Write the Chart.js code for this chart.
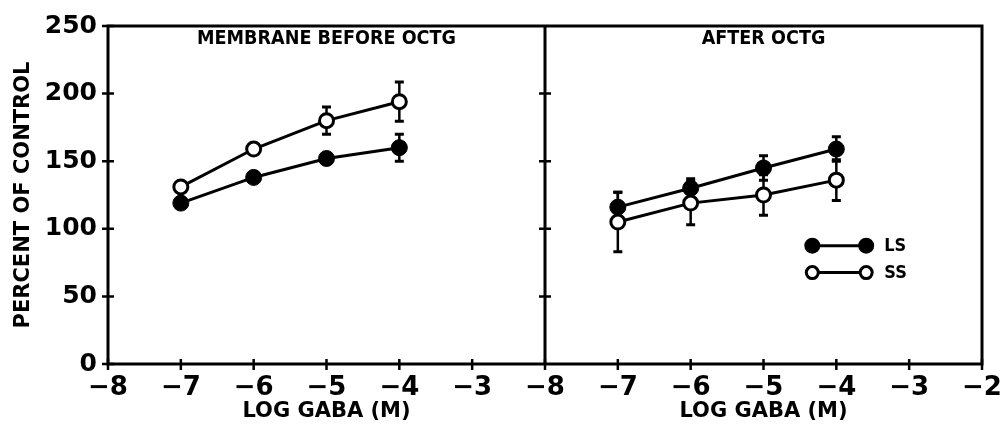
<!DOCTYPE html>
<html>
<head>
<meta charset="utf-8">
<script src="https://cdn.jsdelivr.net/npm/chart.js@4"></script>
<style>
  html, body { margin: 0; padding: 0; background: #fff; }
  #wrap { width: 1003px; height: 424px; }
</style>
</head>
<body>
<div id="wrap"><canvas id="gabaChart"></canvas></div>
<script>
// Data
const logGaba = [-7, -6, -5, -4];

const beforeLS = [119, 138, 152, 160];
const beforeLSErr = [0, 0, 0, 10];
const beforeSS = [131, 159, 180, 194];
const beforeSSErr = [0, 0, 10, 14.5];

const afterLS = [116, 130, 145, 159];
const afterLSErr = [11, 7, 9, 9];
const afterSS = [105, 119, 125, 136];
const afterSSErr = [22, 16, 15, 15];

const yTicks = [0, 50, 100, 150, 200, 250];

// both panels run from -8 to -2; right panel is shifted by 6 on the shared x scale
const leftOffset = 8, rightOffset = 14;

function toPoints(values, offset) {
    return logGaba.map((v, i) => ({ x: v + offset, y: values[i] }));
}

function tickLabel(v) {
    let n;
    if (v < 6) n = v - 8;
    else if (v === 6) n = -8;
    else n = v - 14;
    return n < 0 ? '\u2212' + Math.abs(n) : String(n);
}

const filledStyle = { pointRadius: 8, pointBackgroundColor: '#000', pointBorderColor: '#000', pointBorderWidth: 1 };
const openStyle = { pointRadius: 7, pointBackgroundColor: '#fff', pointBorderColor: '#000', pointBorderWidth: 3 };

function makeSet(label, values, offset, style) {
    return Object.assign({
        label: label,
        data: toPoints(values, offset),
        showLine: true,
        borderColor: '#000',
        borderWidth: 3,
        tension: 0
    }, style);
}

// draw text squeezed horizontally (the figure uses a condensed face)
function condensedText(ctx, text, x, y, squeeze) {
    ctx.save();
    ctx.translate(x, y);
    ctx.scale(squeeze, 1);
    ctx.fillText(text, 0, 0);
    ctx.restore();
}

// error bars, frame, ticks crossing the axes, panel titles and legend
const figurePlugin = {
    id: 'figurePlugin',
    beforeDatasetsDraw(chart) {
        const ctx = chart.ctx, xs = chart.scales.x, ys = chart.scales.y;
        const groups = [
            [beforeLS, beforeLSErr, leftOffset], [beforeSS, beforeSSErr, leftOffset],
            [afterLS, afterLSErr, rightOffset], [afterSS, afterSSErr, rightOffset]
        ];
        ctx.save();
        ctx.strokeStyle = '#000';
        groups.forEach(([vals, errs, off]) => {
            vals.forEach((v, i) => {
                if (!errs[i]) return;
                const px = xs.getPixelForValue(logGaba[i] + off);
                const top = ys.getPixelForValue(v + errs[i]);
                const bot = ys.getPixelForValue(v - errs[i]);
                ctx.lineWidth = 2.5;
                ctx.beginPath();
                ctx.moveTo(px, top); ctx.lineTo(px, bot);
                ctx.stroke();
                ctx.lineWidth = 3;
                ctx.beginPath();
                ctx.moveTo(px - 4.5, top); ctx.lineTo(px + 4.5, top);
                ctx.moveTo(px - 4.5, bot); ctx.lineTo(px + 4.5, bot);
                ctx.stroke();
            });
        });
        ctx.restore();
    },
    afterDraw(chart) {
        const ctx = chart.ctx, xs = chart.scales.x, ys = chart.scales.y;
        const a = chart.chartArea;
        const divX = xs.getPixelForValue(6);
        ctx.save();
        ctx.strokeStyle = '#000';
        ctx.lineWidth = 3;
        ctx.strokeRect(a.left, a.top, a.right - a.left, a.bottom - a.top);
        ctx.beginPath();
        ctx.moveTo(divX, a.top); ctx.lineTo(divX, a.bottom);
        ctx.stroke();

        // ticks crossing the axes
        ctx.lineWidth = 2.5;
        ctx.beginPath();
        yTicks.forEach(t => {
            const py = ys.getPixelForValue(t);
            ctx.moveTo(a.left - 6, py); ctx.lineTo(a.left + 6, py);
            if (t > 0 && t < 250) { ctx.moveTo(divX - 6, py); ctx.lineTo(divX + 6, py); }
        });
        for (let v = 0; v <= 12; v++) {
            const px = xs.getPixelForValue(v);
            ctx.moveTo(px, a.bottom - 5); ctx.lineTo(px, a.bottom + 6);
        }
        ctx.stroke();

        // panel titles
        ctx.fillStyle = '#000';
        ctx.textAlign = 'center';
        ctx.textBaseline = 'middle';
        ctx.font = 'bold 20px "DejaVu Sans"';
        condensedText(ctx, 'MEMBRANE BEFORE OCTG', (a.left + divX) / 2, a.top + 13, 0.88);
        condensedText(ctx, 'AFTER OCTG', (divX + a.right) / 2, a.top + 13, 0.88);

        // x axis titles, one per panel
        ctx.font = 'bold 21px "DejaVu Sans"';
        ctx.fillText('LOG GABA (M)', (a.left + divX) / 2, 412);
        ctx.fillText('LOG GABA (M)', (divX + a.right) / 2, 412);

        // legend
        const lx1 = xs.getPixelForValue(-4.33 + rightOffset);
        const lx2 = xs.getPixelForValue(-3.59 + rightOffset);
        const rows = [['LS', 87.5, true], ['SS', 67.6, false]];
        ctx.textAlign = 'left';
        ctx.font = 'bold 18px "DejaVu Sans"';
        rows.forEach(([name, yv, filled]) => {
            const py = ys.getPixelForValue(yv);
            ctx.lineWidth = 3;
            ctx.beginPath();
            ctx.moveTo(lx1, py); ctx.lineTo(lx2, py);
            ctx.stroke();
            [lx1, lx2].forEach(px => {
                ctx.beginPath();
                if (filled) {
                    ctx.arc(px, py, 8, 0, Math.PI * 2);
                    ctx.fillStyle = '#000';
                    ctx.fill();
                } else {
                    ctx.arc(px, py, 6, 0, Math.PI * 2);
                    ctx.fillStyle = '#fff';
                    ctx.fill();
                    ctx.lineWidth = 3;
                    ctx.stroke();
                }
            });
            ctx.fillStyle = '#000';
            condensedText(ctx, name, lx2 + 18, py + 1, 0.9);
        });
        ctx.restore();
    }
};

const gabaChart = new Chart(document.getElementById('gabaChart').getContext('2d'), {
    type: 'scatter',
    data: {
        datasets: [
            makeSet('LS before', beforeLS, leftOffset, filledStyle),
            makeSet('SS before', beforeSS, leftOffset, openStyle),
            makeSet('LS after', afterLS, rightOffset, filledStyle),
            makeSet('SS after', afterSS, rightOffset, openStyle)
        ]
    },
    plugins: [figurePlugin],
    options: {
        responsive: true,
        maintainAspectRatio: false,
        animation: false,
        layout: { padding: { top: 24, right: 21, left: 0, bottom: 0 } },
        plugins: { legend: { display: false }, tooltip: { enabled: false } },
        scales: {
            x: {
                type: 'linear', min: 0, max: 12,
                grid: { display: false, drawTicks: false },
                border: { display: false },
                ticks: {
                    stepSize: 1, autoSkip: false, maxRotation: 0,
                    padding: 9, color: '#000',
                    font: { family: 'DejaVu Sans', size: 26, weight: 'bold' },
                    callback: v => tickLabel(v)
                },
                afterFit: s => { s.height = 60; s.paddingLeft = 0; s.paddingRight = 0; }
            },
            y: {
                min: 0, max: 250,
                grid: { display: false, drawTicks: false },
                border: { display: false },
                ticks: {
                    stepSize: 50, padding: 11, color: '#000',
                    font: { family: 'DejaVu Sans', size: 25, weight: 'bold' }
                },
                title: {
                    display: true, text: 'PERCENT OF CONTROL', color: '#000',
                    font: { family: 'DejaVu Sans', size: 21, weight: 'bold' },
                    padding: { top: 11, bottom: 0 }
                },
                afterFit: s => { s.width = 108; }
            }
        }
    }
});
</script>
</body>
</html>
